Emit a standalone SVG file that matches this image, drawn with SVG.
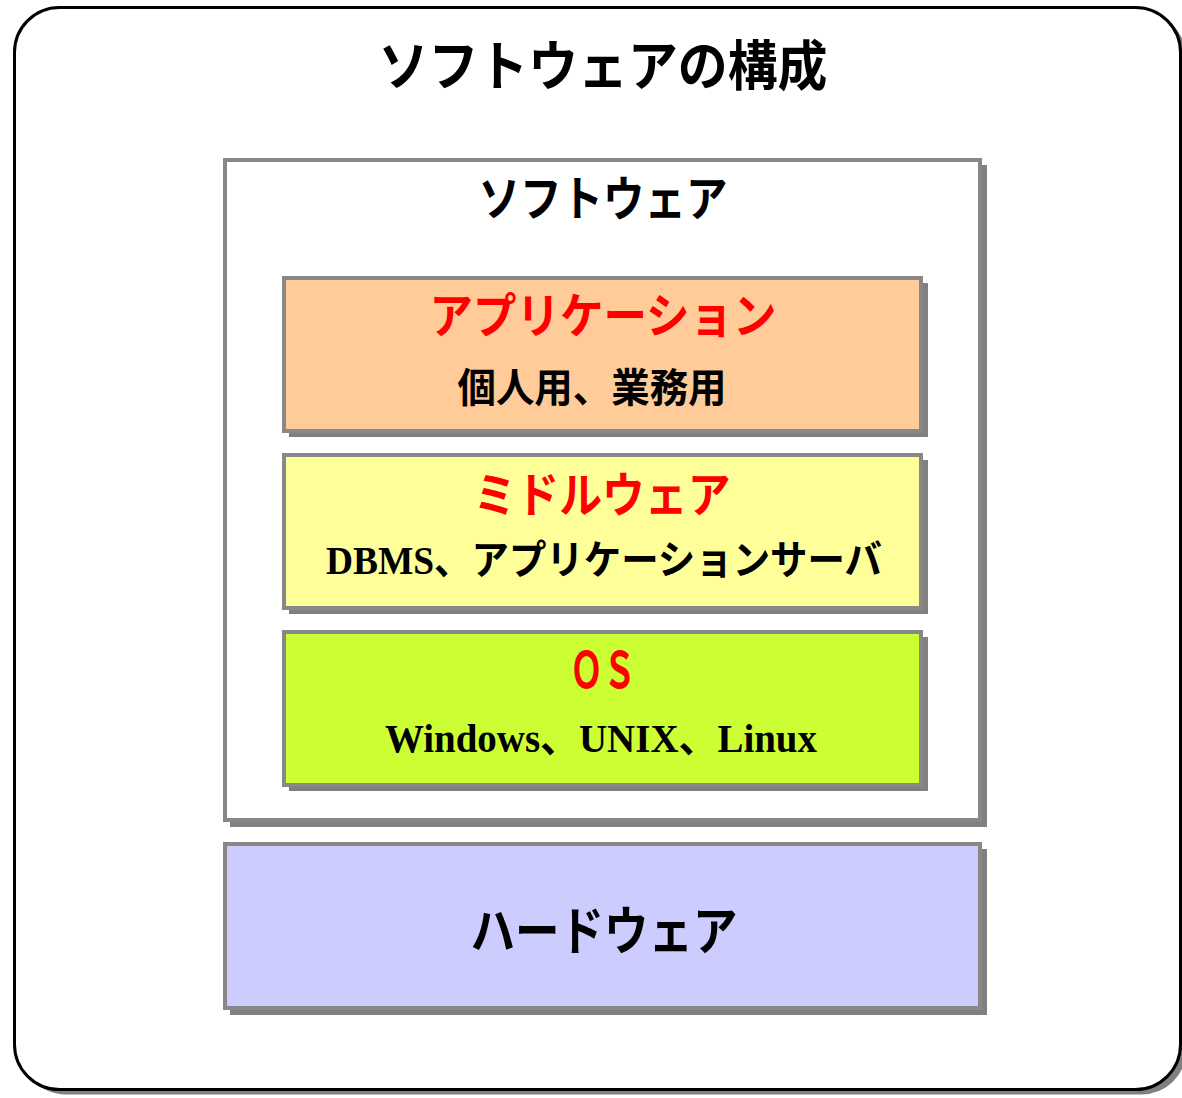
<svg xmlns="http://www.w3.org/2000/svg" width="1182" height="1098" viewBox="0 0 1182 1098">
<style>
.sh{fill:#808080}
.bx{stroke:#888888;stroke-width:4}
.jp{font-family:"Noto Sans CJK JP","Noto Sans",sans-serif;text-anchor:middle;font-weight:bold}
.red{fill:#FF0000}
.blk{fill:#000000}
.serif{font-family:"Liberation Serif","Noto Sans CJK JP",serif;font-weight:bold}
</style>
<rect x="0" y="0" width="1182" height="1098" fill="#ffffff"/>
<g id="frame">
<rect x="20.5" y="12.5" width="1166" height="1082" rx="45" class="sh"/>
<rect x="14.5" y="7.5" width="1166" height="1082" rx="45" fill="#ffffff" stroke="#000000" stroke-width="3"/>
<text x="603" y="86" class="jp blk" font-size="54" textLength="449" lengthAdjust="spacingAndGlyphs">ソフトウェアの構成</text>
</g>
<g id="software">
<rect x="230" y="165" width="757" height="662" class="sh"/>
<rect x="225" y="160" width="755" height="660" fill="#ffffff" class="bx"/>
<text x="603" y="216" class="jp blk" font-size="48" textLength="249" lengthAdjust="spacingAndGlyphs">ソフトウェア</text>
</g>
<g id="application">
<rect x="289" y="283" width="639" height="154" class="sh"/>
<rect x="284" y="278" width="637" height="153" fill="#FFCC99" class="bx"/>
<text x="603" y="333" class="jp red" font-size="48" textLength="347" lengthAdjust="spacingAndGlyphs">アプリケーション</text>
<text x="592" y="402" class="jp blk" font-size="40" textLength="269" lengthAdjust="spacingAndGlyphs">個人用、業務用</text>
</g>
<g id="middleware">
<rect x="289" y="460" width="639" height="154" class="sh"/>
<rect x="284" y="455" width="637" height="153" fill="#FFFF99" class="bx"/>
<text x="602" y="512" class="jp red" font-size="48" textLength="257" lengthAdjust="spacingAndGlyphs">ミドルウェア</text>
<text x="604" y="574" class="jp blk" font-size="40" textLength="556" lengthAdjust="spacingAndGlyphs"><tspan class="serif">DBMS</tspan>、アプリケーションサーバ</text>
</g>
<g id="os">
<rect x="289" y="637" width="639" height="154" class="sh"/>
<rect x="284" y="632" width="637" height="153" fill="#CCFF33" class="bx"/>
<text x="603" y="688" class="jp red" font-size="50" font-weight="500" textLength="66" lengthAdjust="spacingAndGlyphs">ＯＳ</text>
<text x="601" y="752" class="serif blk" font-size="40" text-anchor="middle" textLength="432" lengthAdjust="spacingAndGlyphs">Windows、UNIX、Linux</text>
</g>
<g id="hardware">
<rect x="230" y="849" width="757" height="166" class="sh"/>
<rect x="225" y="844" width="755" height="164" fill="#CCCCFF" class="bx"/>
<text x="604" y="950" class="jp blk" font-size="52" textLength="267" lengthAdjust="spacingAndGlyphs">ハードウェア</text>
</g>
<g id="connectors"></g>
</svg>
